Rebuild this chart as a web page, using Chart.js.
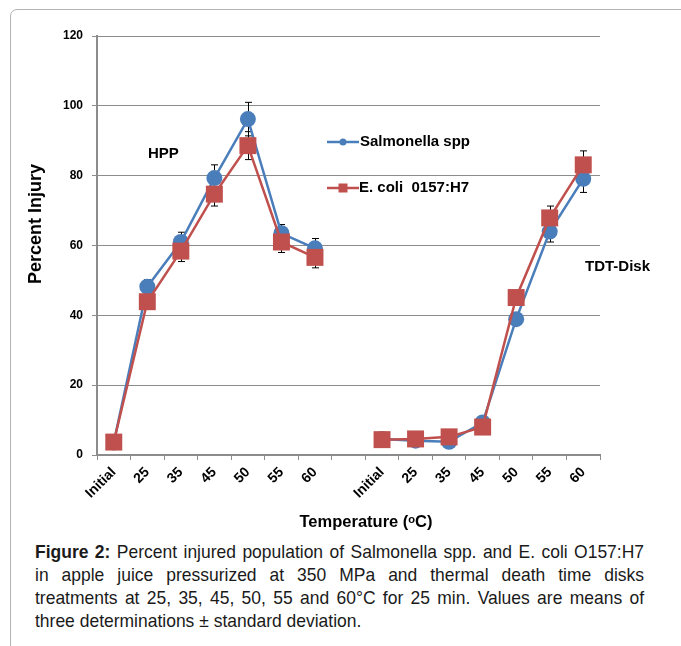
<!DOCTYPE html>
<html lang="en">
<head>
    <meta charset="UTF-8">
    <title>Percent Injury</title>
    <style>
        body {
            margin: 0;
            padding: 0;
            background-color: white;
            width: 681px;
            height: 646px;
            overflow: hidden;
            position: relative;
        }
        .frame {
            position: absolute;
            left: 10px;
            top: 9px;
            width: 700px;
            height: 700px;
            border: 1px solid #b4b4b4;
            border-radius: 7px;
        }
        .chart-box {
            position: absolute;
            left: 0;
            top: 0;
            width: 681px;
            height: 535px;
        }
        .caption {
            position: absolute;
            left: 35px;
            top: 540px;
            width: 662px;
            transform: scaleX(0.92);
            transform-origin: 0 0;
            font-family: "Liberation Sans", Arial, sans-serif;
            font-size: 19px;
            line-height: 23px;
            color: #1a1a1a;
        }
        .caption div {
            white-space: nowrap;
            text-align: justify;
            text-align-last: justify;
        }
        .caption div.last {
            text-align-last: left;
        }
    </style>
    <script src="https://cdn.jsdelivr.net/npm/chart.js"></script>
</head>
<body>
    <div class="frame"></div>
    <div class="chart-box">
        <canvas id="injuryChart" width="681" height="535"></canvas>
    </div>
    <div class="caption">
        <div><b>Figure 2:</b> Percent injured population of Salmonella spp. and E. coli O157:H7</div>
        <div>in apple juice pressurized at 350 MPa and thermal death time disks</div>
        <div>treatments at 25, 35, 45, 50, 55 and 60°C for 25 min. Values are means of</div>
        <div class="last">three determinations ± standard deviation.</div>
    </div>

    <script>
        // categories: HPP block, one empty slot, TDT-Disk block
        const temps = ['Initial', '25', '35', '45', '50', '55', '60', '', 'Initial', '25', '35', '45', '50', '55', '60'];

        const salmonella = [3.6, 48.2, 61.0, 79.3, 96.2, 63.5, 59.2, null, 4.6, 4.1, 3.8, 9.3, 38.9, 64.0, 79.1];
        const salmonellaSd = [0, 2.0, 2.8, 3.8, 4.8, 2.5, 2.8, null, 0, 0, 0, 0, 1.5, 3.0, 3.9];

        const ecoli = [3.7, 43.9, 58.4, 74.7, 88.6, 61.0, 56.6, null, 4.4, 4.6, 5.2, 8.0, 45.1, 67.9, 83.1];
        const ecoliSd = [0, 1.0, 3.0, 3.4, 4.0, 3.0, 3.0, null, 0, 0, 0, 0, 1.0, 3.4, 4.0];

        const blue = '#4a7ebb';
        const red = '#c0504d';
        const boldFont = '"Liberation Sans", Arial, sans-serif';

        // error bars, drawn under the markers
        const errorBars = {
            id: 'errorBars',
            beforeDatasetsDraw(chart) {
                const ctx = chart.ctx;
                const x = chart.scales.x;
                const y = chart.scales.y;
                const sets = [[salmonella, salmonellaSd], [ecoli, ecoliSd]];
                ctx.save();
                ctx.strokeStyle = '#000';
                ctx.lineWidth = 1;
                sets.forEach(function(s) {
                    s[0].forEach(function(v, i) {
                        const sd = s[1][i];
                        if (v === null || !sd) return;
                        const px = Math.round(x.getPixelForValue(i)) + 0.5;
                        const top = y.getPixelForValue(v + sd);
                        const bot = y.getPixelForValue(v - sd);
                        ctx.beginPath();
                        ctx.moveTo(px, top);
                        ctx.lineTo(px, bot);
                        ctx.moveTo(px - 3.5, top);
                        ctx.lineTo(px + 3.5, top);
                        ctx.moveTo(px - 3.5, bot);
                        ctx.lineTo(px + 3.5, bot);
                        ctx.stroke();
                    });
                });
                ctx.restore();
            }
        };

        // axis titles, legend and the two block labels
        const notes = {
            id: 'notes',
            afterDraw(chart) {
                const ctx = chart.ctx;
                ctx.save();
                ctx.fillStyle = '#000';
                ctx.textBaseline = 'middle';

                ctx.textAlign = 'center';
                ctx.font = 'bold 16.5px ' + boldFont;
                ctx.fillText('Temperature (ᵒC)', 366, 522);
                ctx.save();
                ctx.translate(36, 224);
                ctx.rotate(-Math.PI / 2);
                ctx.font = 'bold 18px ' + boldFont;
                ctx.fillText('Percent Injury', 0, 0);
                ctx.restore();

                ctx.textAlign = 'left';
                ctx.font = 'bold 15px ' + boldFont;
                ctx.fillText('HPP', 148, 154);
                ctx.fillText('TDT-Disk', 585, 267);

                // legend
                ctx.lineWidth = 2.5;
                ctx.strokeStyle = blue;
                ctx.beginPath();
                ctx.moveTo(327, 142);
                ctx.lineTo(359, 142);
                ctx.stroke();
                ctx.fillStyle = blue;
                ctx.beginPath();
                ctx.arc(343, 142, 3.5, 0, Math.PI * 2);
                ctx.fill();

                ctx.strokeStyle = red;
                ctx.beginPath();
                ctx.moveTo(327, 188);
                ctx.lineTo(359, 188);
                ctx.stroke();
                ctx.fillStyle = red;
                ctx.fillRect(338.5, 183.5, 9, 9);

                ctx.fillStyle = '#000';
                ctx.font = 'bold 15px ' + boldFont;
                ctx.fillText('Salmonella spp', 360, 142);
                ctx.fillText('E. coli  0157:H7', 359, 188);
                ctx.restore();
            }
        };

        new Chart(document.getElementById('injuryChart'), {
            type: 'line',
            data: {
                labels: temps,
                datasets: [
                    {
                        label: 'Salmonella spp',
                        data: salmonella,
                        borderColor: blue,
                        backgroundColor: blue,
                        borderWidth: 2.5,
                        pointStyle: 'circle',
                        pointRadius: 8,
                        pointBorderWidth: 0,
                        spanGaps: false,
                        tension: 0,
                        order: 2
                    },
                    {
                        label: 'E. coli 0157:H7',
                        data: ecoli,
                        borderColor: red,
                        backgroundColor: red,
                        borderWidth: 2.5,
                        pointStyle: 'rect',
                        pointRadius: 12,
                        pointBorderWidth: 0,
                        spanGaps: false,
                        tension: 0,
                        order: 1
                    }
                ]
            },
            options: {
                responsive: false,
                animation: false,
                layout: {
                    padding: { left: 20, right: 81, top: 36, bottom: 0 }
                },
                plugins: {
                    legend: { display: false },
                    tooltip: { enabled: false }
                },
                scales: {
                    x: {
                        offset: true,
                        afterFit: function(scale) { scale.height = 80; },
                        grid: {
                            display: true,
                            drawOnChartArea: false,
                            offset: true,
                            color: '#8c8c8c',
                            tickLength: 5
                        },
                        border: { color: '#8c8c8c', width: 2 },
                        ticks: {
                            autoSkip: false,
                            minRotation: 45,
                            maxRotation: 45,
                            color: '#000',
                            padding: 4,
                            font: { family: boldFont, size: 14, weight: 'bold' }
                        }
                    },
                    y: {
                        min: 0,
                        max: 120,
                        afterFit: function(scale) { scale.width = 77; },
                        grid: {
                            color: '#8c8c8c',
                            tickLength: 5
                        },
                        border: { color: '#8c8c8c', width: 2 },
                        ticks: {
                            stepSize: 20,
                            color: '#000',
                            padding: 9,
                            font: { family: boldFont, size: 12, weight: 'bold' }
                        }
                    }
                }
            },
            plugins: [errorBars, notes]
        });
    </script>
</body>
</html>
